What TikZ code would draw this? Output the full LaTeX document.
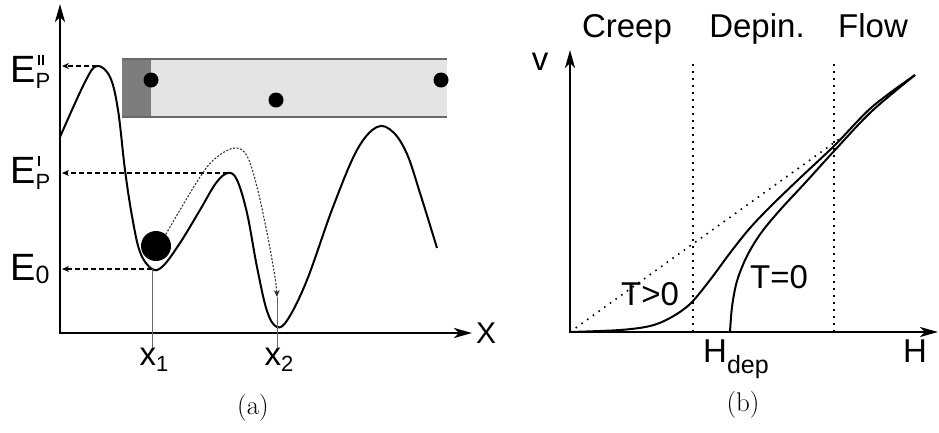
\documentclass[tikz,border=0pt]{standalone}
\usepackage{fontspec}
\usepackage{xcolor}
\usepackage{tikz}
\usetikzlibrary{arrows.meta}
\newfontfamily\labfont{Liberation Sans}

\definecolor{boxfill}{RGB}{226,228,229}
\definecolor{boxdark}{RGB}{125,125,125}
\definecolor{boxline}{RGB}{105,105,105}

% subscript (lowered by #1)
\newcommand{\sbx}[2][6pt]{\raisebox{-#1}{\fontsize{22}{22}\selectfont #2}}
% ticks above, subscript below
\newcommand{\tck}{\rule{1.6pt}{10pt}}
\newcommand{\Emark}[2]{\makebox[0pt][l]{\raisebox{-6pt}{\fontsize{22}{22}\selectfont #1}}\hspace{2.5pt}\raisebox{17pt}{#2}}

\begin{document}
\begin{tikzpicture}[x=1pt, y=-1pt,
    axis/.style={line width=2.8pt, arrows={Stealth[length=18pt,width=10pt,inset=5pt]-Stealth[length=18pt,width=10pt,inset=5pt]}},
    curve/.style={line width=2pt, line join=round},
    dasharr/.style={line width=1.8pt, dash pattern=on 5pt off 3pt, -{Stealth[length=7pt,width=6pt]}, shorten >=2pt},
    dotarr/.style={line width=1.1pt, black!80, dash pattern=on 2pt off 1.6pt, -{Stealth[length=7pt,width=6pt]}},
    thinline/.style={line width=1pt, black!60},
    vdot/.style={line width=1.6pt, dash pattern=on 1.6pt off 5.4pt},
    lab/.style={font=\labfont\fontsize{33}{36}\selectfont, inner sep=0pt},
    elab/.style={font=\labfont\fontsize{38}{40}\selectfont, inner sep=0pt, anchor=base west},
    captext/.style={font=\fontsize{27}{30}\selectfont, inner sep=0pt}]

    \useasboundingbox (0,0) rectangle (939,432);

    % ---------- (a) ----------
    % Оси
    \coordinate (oa) at (60,333);
    \coordinate (ya) at (60,4);
    \coordinate (xa) at (472,333);
    \draw[axis] (ya) |- (xa);
    \node[lab, font=\labfont\fontsize{30}{34}\selectfont, anchor=west] (xlab) at (476,333) {X};

    % Вставка
    \fill[boxfill] (122,59) rectangle (447,117);
    \fill[boxdark] (122,59) rectangle (151,117);
    \draw[boxline, line width=1.2pt] (122,59) -- (447,59) (122,117) -- (447,117);
    \fill (151,80) circle (7.5);
    \fill (276,100) circle (7.5);
    \fill (441,80) circle (7.5);

    % Потенциал
    \coordinate (pkA) at (97,66);
    \coordinate (pkB) at (228,173);
    \coordinate (mnA) at (152,269);
    \coordinate (mnB) at (277,327);
    \draw[curve] plot[smooth, tension=0.6] coordinates {(60,137) (85,82) (pkA) (110,77) (118,110) (125,170) (132,216) (140,252) (mnA) (163,266) (180,243) (200,210) (216,183) (pkB) (237,180) (247,213) (257,267) (267,311) (mnB) (288,319) (307,280) (333,207) (357,150) (377,127) (393,132) (407,154) (420,193) (437,248)};

    % Уровни
    \node[elab] (epp) at (10,82) {E\Emark{P}{\tck\hspace{2.5pt}\tck}};
    \node[elab] (ep) at (10,183) {E\Emark{P}{\tck}};
    \node[elab] (e0) at (10,280) {E\sbx[3pt]{\fontsize{25}{25}\selectfont 0}};
    \draw[dasharr] (pkA) -- (pkA -| oa);
    \draw[dasharr] (pkB) -- (pkB -| oa);
    \draw[dasharr] (mnA) -- (mnA -| oa);

    % Шарик и перескок
    \node[circle, fill, minimum size=30pt, inner sep=0pt] (ball) at (156,246) {};
    \coordinate (dtip) at (277,297);
    \draw[dotarr] plot[smooth, tension=0.6] coordinates {(ball.50) (200,177) (217,157) (235,148) (247,156) (257,187) (267,233) (275,277) (dtip)};

    % Метки x1, x2
    \node[lab, anchor=north] (xone) at (154,348) {x\sbx{1}};
    \node[lab, anchor=north] (xtwo) at (279,348) {x\sbx{2}};
    \draw[thinline] (mnA) -- (mnA |- xone.north);
    \draw[thinline] (dtip) -- (dtip |- xtwo.north);

    \node[captext] (capa) at (253,408) {(a)};

    % ---------- (b) ----------
    % Оси
    \coordinate (ob) at (570,332);
    \coordinate (yb) at (570,50);
    \coordinate (xb) at (938,332);
    \draw[axis, line width=2.4pt] (yb) |- (xb);
    \node[lab] (vlab) at (540,62) {v};
    \node[lab] (hlab) at (915,351) {H};
    \node[lab, anchor=base west] (hdep) at (703,362) {H\sbx[11pt]{\fontsize{25}{25}\selectfont dep}};

    % Области
    \coordinate (hd) at (693,332);
    \coordinate (hf) at (834,332);
    \draw[vdot] (hd) -- (hd |- 0,63);
    \draw[vdot] (hf) -- (hf |- 0,63);
    \node[lab, anchor=base] (creep) at (627,37) {Creep};
    \node[lab, anchor=base] (depin) at (757,37) {Depin.};
    \node[lab, anchor=base] (flow) at (873,37) {Flow};

    % Кривые
    \coordinate (hend) at (915,75);
    \draw[vdot] (ob) -- (842,137);
    \draw[curve] plot[smooth, tension=0.55] coordinates {(ob) (620,330) (650,326) (670,318) (690,304) (710,280) (730,253) (750,228) (772,205) (800,178) (835,145) (872,107) (hend)};
    \draw[curve] plot[smooth, tension=0.55] coordinates {(730,332) (732,307) (737,281) (747,256) (761,233) (780,210) (805,183) (835,150) (872,111) (hend)};
    \node[lab, anchor=base] (tpos) at (650,305) {T>0};
    \node[lab, anchor=base] (tzero) at (779,288) {T=0};

    \node[captext] (capb) at (743,405) {(b)};

\end{tikzpicture}
\end{document}
